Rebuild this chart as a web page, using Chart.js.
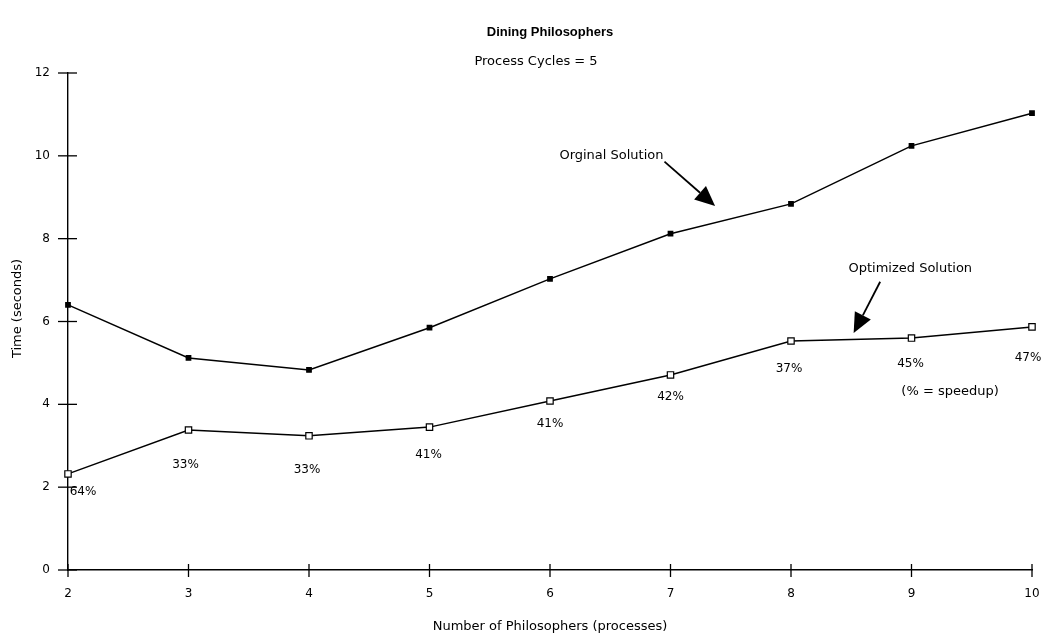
<!DOCTYPE html>
<html>
<head>
<meta charset="utf-8">
<title>Dining Philosophers</title>
<script src="https://cdn.jsdelivr.net/npm/chart.js@4.4.0/dist/chart.umd.min.js"></script>
<style>
  html, body { margin: 0; padding: 0; background: #fff; }
  #wrap { width: 1044px; height: 641px; }
</style>
</head>
<body>
<div id="wrap"><canvas id="chartDining"></canvas></div>
<script>
// data
var philosophers = [2, 3, 4, 5, 6, 7, 8, 9, 10];
var originalTimes = [6.40, 5.12, 4.83, 5.85, 7.03, 8.12, 8.84, 10.24, 11.03];
var optimizedTimes = [2.32, 3.38, 3.24, 3.45, 4.08, 4.71, 5.53, 5.60, 5.87];
var speedupLabels = ['64%', '33%', '33%', '41%', '41%', '42%', '37%', '45%', '47%'];
var yTicks = [0, 2, 4, 6, 8, 10, 12];

var fontFamily = '"DejaVu Sans", Verdana, sans-serif';
var titleFont = '"Liberation Sans", Arial, Helvetica, sans-serif';

// label offsets in px from the optimized points (layout only)
var speedupOffsets = [[15, 18], [-3, 35], [-2, 34], [-1, 28], [0, 23], [0, 22], [-2, 28], [-1, 26], [-4, 31]];

// draws titles, crossing tick marks, speedup labels and the two arrows
var annotatePlugin = {
    id: 'annotate',
    afterDatasetsDraw: function(chart) {
        var ctx = chart.ctx;
        var xs = chart.scales.x, ys = chart.scales.y;
        var area = chart.chartArea;
        var x0 = xs.getPixelForValue(2), y0 = ys.getPixelForValue(0);
        var midX = (area.left + area.right) / 2;
        ctx.save();
        ctx.fillStyle = '#000';
        ctx.textAlign = 'center';
        ctx.textBaseline = 'middle';
        ctx.font = 'bold 13px ' + titleFont;
        ctx.fillText('Dining Philosophers', midX, 32);
        ctx.font = '13px ' + fontFamily;
        ctx.fillText('Process Cycles = 5', midX - 14, 62);

        // y axis title
        ctx.save();
        ctx.translate(18, (area.top + area.bottom) / 2 - 13);
        ctx.rotate(-Math.PI / 2);
        ctx.fillText('Time (seconds)', 0, 0);
        ctx.restore();

        ctx.strokeStyle = '#000';
        ctx.lineWidth = 1.3;
        // y ticks cross the axis
        $each(yTicks, function(v) {
            var py = ys.getPixelForValue(v);
            ctx.beginPath();
            ctx.moveTo(x0 - 10, py);
            ctx.lineTo(x0 + 9, py);
            ctx.stroke();
        });
        // x ticks
        $each(philosophers, function(v) {
            var px = xs.getPixelForValue(v);
            ctx.beginPath();
            ctx.moveTo(px, y0 - 6);
            ctx.lineTo(px, y0 + 7);
            ctx.stroke();
        });

        ctx.fillText('(% = speedup)', xs.getPixelForValue(9.32), ys.getPixelForValue(4.30));
        ctx.fillText('Orginal Solution', xs.getPixelForValue(6.51), ys.getPixelForValue(10.0));
        ctx.fillText('Optimized Solution', xs.getPixelForValue(8.99), ys.getPixelForValue(7.27));

        ctx.font = '12px ' + fontFamily;
        $each(speedupLabels, function(lbl, i) {
            var px = xs.getPixelForValue(philosophers[i]) + speedupOffsets[i][0];
            var py = ys.getPixelForValue(optimizedTimes[i]) + speedupOffsets[i][1];
            ctx.fillText(lbl, px, py);
        });

        // arrows
        drawArrow(ctx, xs.getPixelForValue(6.95), ys.getPixelForValue(9.86), xs.getPixelForValue(7.37), ys.getPixelForValue(8.79));
        drawArrow(ctx, xs.getPixelForValue(8.74), ys.getPixelForValue(6.96), xs.getPixelForValue(8.52), ys.getPixelForValue(5.72));
        ctx.restore();
    }
};

function $each(arr, fn) {
    for (var i = 0; i < arr.length; i++) fn(arr[i], i);
}

function drawArrow(ctx, x1, y1, x2, y2) {
    var ang = Math.atan2(y2 - y1, x2 - x1);
    var headLen = 20, headW = 9;
    var bx = x2 - headLen * Math.cos(ang), by = y2 - headLen * Math.sin(ang);
    ctx.beginPath();
    ctx.lineWidth = 1.8;
    ctx.moveTo(x1, y1);
    ctx.lineTo(bx, by);
    ctx.stroke();
    ctx.beginPath();
    ctx.moveTo(x2, y2);
    ctx.lineTo(bx + headW * Math.sin(ang), by - headW * Math.cos(ang));
    ctx.lineTo(bx - headW * Math.sin(ang), by + headW * Math.cos(ang));
    ctx.closePath();
    ctx.fill();
}

var chartData = {
    labels: philosophers,
    datasets: [{
        label: 'Orginal Solution',
        data: philosophers.map(function(x, i) { return {x: x, y: originalTimes[i]}; }),
        borderColor: '#000',
        borderWidth: 1.5,
        pointStyle: 'rect',
        pointRadius: 3,
        pointBackgroundColor: '#000',
        pointBorderColor: '#000',
        fill: false,
        clip: false,
        tension: 0
        },{
        label: 'Optimized Solution',
        data: philosophers.map(function(x, i) { return {x: x, y: optimizedTimes[i]}; }),
        borderColor: '#000',
        borderWidth: 1.5,
        pointStyle: 'rect',
        pointRadius: 4.5,
        pointBorderWidth: 1.2,
        pointBackgroundColor: '#fff',
        pointBorderColor: '#000',
        fill: false,
        clip: false,
        tension: 0
        }
    ]
};

var ctx = document.getElementById('chartDining');
var diningChart = new Chart(ctx, {
    type: 'line',
    data: chartData,
    plugins: [annotatePlugin],
    options: {
        responsive: true,
        maintainAspectRatio: false,
        animation: false,
        layout: {
            padding: { left: 0, right: 0, top: 73, bottom: 0 }
        },
        plugins: {
            legend: { display: false },
            tooltip: { enabled: false },
            title: { display: false },
            subtitle: { display: false }
        },
        scales: {
            x: {
                type: 'linear',
                min: 2,
                max: 10,
                afterFit: function(scale) {
                    scale.height = 71;
                    scale.paddingRight = 12;
                },
                afterBuildTicks: function(scale) {
                    scale.ticks = philosophers.map(function(v) { return {value: v}; });
                },
                grid: { display: false },
                border: { display: true, color: '#000', width: 1.4 },
                ticks: {
                    color: '#000',
                    padding: 9,
                    maxRotation: 0,
                    font: { family: fontFamily, size: 12 }
                },
                title: {
                    display: true,
                    text: 'Number of Philosophers (processes)',
                    color: '#000',
                    font: { family: fontFamily, size: 13 },
                    padding: { top: 0, bottom: 7 }
                }
            },
            y: {
                type: 'linear',
                min: 0,
                max: 12,
                afterFit: function(scale) { scale.width = 68; },
                afterBuildTicks: function(scale) {
                    scale.ticks = yTicks.map(function(v) { return {value: v}; });
                },
                grid: { display: false },
                border: { display: true, color: '#000', width: 1.4 },
                ticks: {
                    color: '#000',
                    padding: 10,
                    font: { family: fontFamily, size: 12 }
                }
            }
        }
    }
});
</script>
</body>
</html>
